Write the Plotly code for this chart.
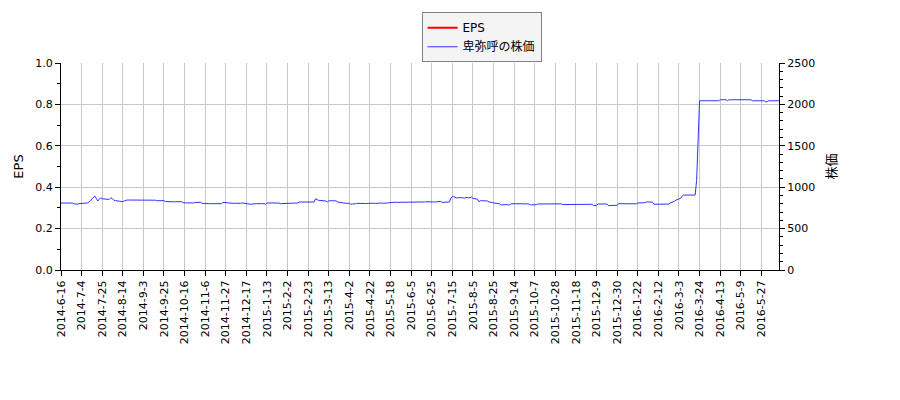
"""EPS and share price chart for 卑弥呼, drawn with plotly."""
import pandas as pd
from plotly.graph_objs import Scatter, Figure

FONT = 'DejaVu Sans, Noto Sans CJK JP, sans-serif'
GRID_COLOUR = 'rgb(200,200,200)'
EPS_COLOUR = 'rgb(255, 0, 0)'
PRICE_COLOUR = 'rgb(50, 50, 255)'

START_DATE = '2014-06-16'
END_DATE = '2016-06-30'

# Tokyo market closing days inside the period
HOLIDAYS = [
    '2014-07-21', '2014-09-15', '2014-09-23', '2014-10-13', '2014-11-03', '2014-11-24',
    '2014-12-23', '2014-12-31', '2015-01-01', '2015-01-02', '2015-01-12', '2015-02-11',
    '2015-04-29', '2015-05-04', '2015-05-05', '2015-05-06', '2015-07-20', '2015-09-21',
    '2015-09-22', '2015-09-23', '2015-10-12', '2015-11-03', '2015-11-23', '2015-12-23',
    '2015-12-31', '2016-01-01', '2016-01-11', '2016-02-11', '2016-03-21', '2016-04-29',
    '2016-05-03', '2016-05-04', '2016-05-05',
]

TICK_LABELS = [
    '2014-6-16', '2014-7-4', '2014-7-25', '2014-8-14', '2014-9-3', '2014-9-25',
    '2014-10-16', '2014-11-6', '2014-11-27', '2014-12-17', '2015-1-13', '2015-2-2',
    '2015-2-23', '2015-3-13', '2015-4-2', '2015-4-22', '2015-5-18', '2015-6-5',
    '2015-6-25', '2015-7-15', '2015-8-5', '2015-8-25', '2015-9-14', '2015-10-7',
    '2015-10-28', '2015-11-18', '2015-12-9', '2015-12-30', '2016-1-22', '2016-2-12',
    '2016-3-3', '2016-3-24', '2016-4-13', '2016-5-9', '2016-5-27',
]

# no EPS values are plotted in the source chart
EPS_DATES = ['2014-6-16']
EPS_VALUES = [None]

# daily close, one value per trading day from 2014-6-16
PRICE = [
    810, 810, 812, 810, 808, 810, 810, 806, 808,
    798, 795, 795, 800,
    802, 800, 802, 805, 803,
    810, 820, 833, 860, 880, 893, 865, 833, 855, 873,
    860, 857, 855, 857, 853, 855, 873, 860,
    841, 838, 835, 833, 830, 828, 825, 835, 843, 845, 845,
    845, 847, 847, 845, 845, 845, 843, 845, 845, 845, 843, 845, 845, 843, 845, 845, 843, 843,
    837, 837, 838, 837, 835, 837,
    827, 825, 825, 827, 825, 825, 823, 825, 825, 825, 827, 825,
    813, 810, 809, 809, 811, 809, 813, 809,
    817, 817, 815, 817, 817,
    803, 801, 801, 801, 803, 801, 801, 801, 801, 801, 803, 801, 801, 801,
    817, 815, 811, 809, 805,
    805, 805, 805, 807, 805, 805,
    809, 805, 810, 806, 808, 805,
    794, 795, 794, 796, 794,
    801, 801, 803, 801, 801, 801, 801, 794,
    809, 809, 811, 809, 809, 807, 809, 809, 809,
    801, 801, 803, 801, 801, 801, 803, 801,
    805, 810, 805, 808, 810,
    821, 821, 821, 821, 821, 821, 820, 821, 821, 821, 821,
    860, 845, 841, 841, 841, 833, 833, 833, 821,
    835, 837, 835, 833, 835, 835, 821, 821, 821,
    813, 809, 805, 805, 805, 805, 794, 796,
    803, 801, 805, 803, 803, 801, 805, 803, 803, 805, 803, 801, 803,
    807, 807, 805, 809, 807, 807, 811, 805, 807, 807,
    817, 817, 815, 817, 817, 819, 817, 817, 817, 815, 817, 817,
    815, 817, 813, 815, 817, 815, 815, 813, 817,
    822, 822, 821, 822, 822, 824, 822, 822, 821, 822, 822,
    821, 821, 829, 829, 829,
    817, 817, 819, 817, 817, 821,
    870, 885, 885,
    873, 870, 873, 875, 870, 873, 868, 873, 878, 870, 873, 880,
    865, 860, 860, 855, 825,
    837, 837, 838, 837, 835, 833, 821, 821, 817,
    809, 805, 800, 800, 801,
    786, 788, 786, 786, 790, 786, 788,
    800, 801, 797, 801, 803, 797, 800, 801, 800, 797, 801, 800, 797,
    786, 788, 786, 790, 788,
    797, 797, 799, 797, 797, 801, 797, 797, 795, 797, 799, 797, 797, 797, 799,
    801, 799,
    790, 790, 792, 790, 788, 790, 792, 790, 790,
    794, 794, 796, 794, 794, 794, 792, 794, 796, 794, 794, 794,
    778, 778, 780,
    797, 797, 795, 797, 799, 797, 797,
    778, 780, 778, 778, 778, 780, 782,
    801, 801, 799, 801, 801, 803, 801,
    797, 797, 795, 797, 797, 799,
    809, 809, 811, 809, 809, 813,
    822, 822, 825, 822, 820,
    794, 794, 796, 794, 794, 794, 796, 794, 794, 794, 796,
    810, 815, 825, 830, 845, 850, 855, 865, 890,
    905, 905, 905, 905, 905, 905, 905, 905, 905,
    1080, 1500,
    2044, 2044, 2044, 2044, 2044, 2044, 2044, 2044, 2044, 2044, 2044, 2044, 2044, 2044,
    2056, 2056, 2056, 2056, 2056, 2044, 2056, 2056, 2056,
    2056, 2056, 2056, 2056, 2056, 2056, 2056, 2056, 2056, 2056, 2056, 2056, 2056,
    2044, 2044, 2044, 2044, 2044, 2044, 2044, 2044, 2044,
    2032, 2032,
    2044, 2044, 2044, 2044, 2044, 2044, 2044, 2044,
]


def trading_days() -> list[str]:
    """Return the trading days as labels like 2014-6-16."""
    days = pd.bdate_range(START_DATE, END_DATE)
    days = days[~days.isin(pd.to_datetime(HOLIDAYS))]
    return [f'{d.year}-{d.month}-{d.day}' for d in days]


def make_chart() -> Figure:
    dates = trading_days()[:len(PRICE)]

    trace_eps = Scatter(x=EPS_DATES, y=EPS_VALUES, mode='lines', name='EPS',
                        line={'color': EPS_COLOUR, 'width': 2}, showlegend=True)
    trace_price = Scatter(x=dates, y=PRICE, mode='lines', name='卑弥呼の株価',
                          line={'color': PRICE_COLOUR, 'width': 1}, yaxis='y2')

    fig = Figure(data=[trace_eps, trace_price])
    fig.update_layout(
        width=900, height=400,
        margin={'l': 61, 'r': 121, 't': 60, 'b': 130},
        paper_bgcolor='white', plot_bgcolor='white',
        font={'family': FONT, 'size': 11, 'color': 'black'},
        showlegend=True,
        legend={'x': 0.5857, 'y': 1.245, 'xanchor': 'center', 'yanchor': 'top',
                'bgcolor': 'rgb(244,244,244)', 'bordercolor': 'rgb(128,128,128)',
                'borderwidth': 1, 'font': {'size': 12}, 'tracegroupgap': 0,
                'itemwidth': 30},
        xaxis={'type': 'category', 'categoryorder': 'array', 'categoryarray': dates,
               'range': [0, len(dates) - 1], 'tickmode': 'array',
               'tickvals': TICK_LABELS, 'ticktext': TICK_LABELS, 'tickangle': -90,
               'showgrid': True, 'gridcolor': GRID_COLOUR, 'gridwidth': 1,
               'showline': True, 'linecolor': 'black', 'linewidth': 1,
               'ticks': 'outside', 'ticklen': 5, 'tickcolor': 'black',
               'zeroline': False},
        yaxis={'title': {'text': 'EPS', 'standoff': 8}, 'range': [0, 1.0], 'dtick': 0.2,
               'tickformat': '.1f', 'showgrid': True, 'gridcolor': GRID_COLOUR,
               'showline': True, 'linecolor': 'black', 'linewidth': 1,
               'ticks': 'outside', 'ticklen': 5, 'tickcolor': 'black', 'zeroline': False,
               'minor': {'dtick': 0.1, 'ticks': 'outside', 'ticklen': 3,
                         'tickcolor': 'black', 'showgrid': False}},
        yaxis2={'title': {'text': '株価', 'standoff': 12}, 'range': [0, 2500], 'dtick': 500,
                'overlaying': 'y', 'side': 'right', 'showgrid': False,
                'showline': True, 'linecolor': 'black', 'linewidth': 1,
                'ticks': 'outside', 'ticklen': 5, 'tickcolor': 'black', 'zeroline': False,
                'minor': {'dtick': 100, 'ticks': 'outside', 'ticklen': 3,
                          'tickcolor': 'black', 'showgrid': False}},
    )
    return fig


if __name__ == '__main__':
    chart = make_chart()
    # drop the default page margin so the figure sits at the window corner
    chart.write_html('out.html', config={'displayModeBar': False},
                     post_script="document.body.style.margin = '0';")
